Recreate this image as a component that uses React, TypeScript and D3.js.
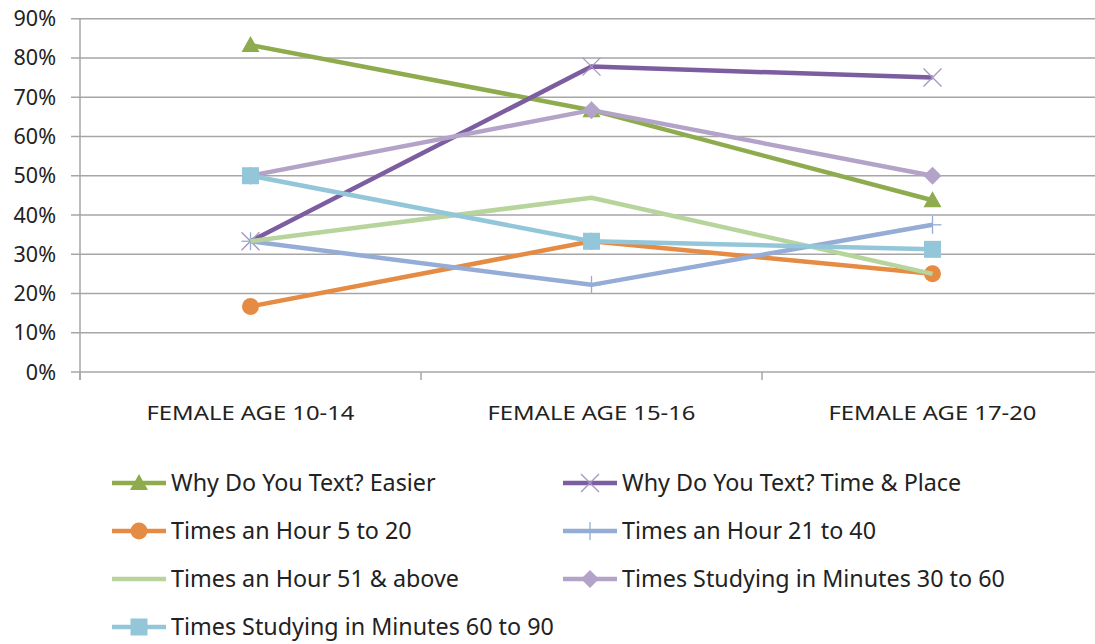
import React from "react";
import * as d3 from "d3";

const categories = ["FEMALE AGE 10-14", "FEMALE AGE 15-16", "FEMALE AGE 17-20"];
const yTicks = [0, 0.1, 0.2, 0.3, 0.4, 0.5, 0.6, 0.7, 0.8, 0.9];

const seriesNames = [
    "Why Do You Text? Easier",
    "Why Do You Text? Time & Place",
    "Times an Hour 5 to 20",
    "Times an Hour 21 to 40",
    "Times an Hour 51 & above",
    "Times Studying in Minutes 30 to 60",
    "Times Studying in Minutes 60 to 90",
];
const easier = [0.833, 0.667, 0.4375];
const timePlace = [0.333, 0.778, 0.75];
const hour5to20 = [0.167, 0.333, 0.25];
const hour21to40 = [0.333, 0.222, 0.375];
const hour51up = [0.333, 0.444, 0.25];
const study30to60 = [0.5, 0.667, 0.5];
const study60to90 = [0.5, 0.333, 0.3125];

const seriesValues = [easier, timePlace, hour5to20, hour21to40, hour51up, study30to60, study60to90];
const colors = ["#8eac4e", "#7b5da0", "#e58b43", "#95acd6", "#b7d49c", "#b3a3c8", "#93c6d8"];
const markers = ["triangle", "x", "circle", "plus", "none", "diamond", "square"];

const width = 1095;
const height = 644;
const font = "'Noto Sans', 'Open Sans', sans-serif";

function Marker({ type, x, y, color }: { type: string; x: number; y: number; color: string }) {
    if (type === "triangle") {
        return <path d={`M${x},${y - 9} L${x + 9},${y + 7} L${x - 9},${y + 7} Z`} fill={color} />;
    }
    if (type === "circle") {
        return <circle cx={x} cy={y} r={8.5} fill={color} />;
    }
    if (type === "square") {
        return <rect x={x - 8.5} y={y - 8.5} width={17} height={17} fill={color} />;
    }
    if (type === "diamond") {
        return <path d={`M${x},${y - 9} L${x + 9},${y} L${x},${y + 9} L${x - 9},${y} Z`} fill={color} />;
    }
    if (type === "x") {
        return (
            <g stroke="#a594c4" strokeWidth={1.3}>
                <line x1={x - 9} y1={y - 9} x2={x + 9} y2={y + 9} />
                <line x1={x - 9} y1={y + 9} x2={x + 9} y2={y - 9} />
            </g>
        );
    }
    if (type === "plus") {
        return (
            <g stroke={color} strokeWidth={1.3}>
                <line x1={x - 9} y1={y} x2={x + 9} y2={y} />
                <line x1={x} y1={y - 9} x2={x} y2={y + 9} />
            </g>
        );
    }
    return null;
}

export default function App() {
    const x = d3.scaleBand().domain(categories).range([80, 1103]);
    const y = d3.scaleLinear().domain([0, 0.9]).range([372, 18.7]);
    const cx = (c: string) => (x(c) as number) + x.bandwidth() / 2;

    const line = d3.line<[number, number]>().x((d) => d[0]).y((d) => d[1]);
    const tickXs = [...categories.map((c) => x(c) as number), 1103];

    const legendRows = seriesNames.map((name, i) => ({
        name,
        lx: i % 2 === 0 ? 112 : 563,
        ly: 483 + Math.floor(i / 2) * 48,
        color: colors[i],
        marker: markers[i],
    }));

    return (
        <svg width={width} height={height} style={{ position: "absolute", left: 0, top: 0, background: "#fff" }}>
            {/* gridlines */}
            {yTicks.map((t) => (
                <g key={t}>
                    <line x1={71} x2={width} y1={y(t)} y2={y(t)} stroke="#a6a6a6" strokeWidth={1.5} />
                    <text x={56} y={y(t)} dy="0.35em" textAnchor="end" fontFamily={font} fontSize={21.5} fill="#222">
                        {d3.format(".0%")(t)}
                    </text>
                </g>
            ))}
            <line x1={80} x2={80} y1={y(0.9)} y2={380} stroke="#a6a6a6" strokeWidth={1.5} />
            {tickXs.map((t) => (
                <line key={t} x1={t} x2={t} y1={372} y2={380} stroke="#a6a6a6" strokeWidth={1.5} />
            ))}
            {categories.map((c) => (
                <text key={c} x={cx(c)} y={420} textAnchor="middle" fontFamily={font} fontSize={19.5}
                    textLength={208} lengthAdjust="spacingAndGlyphs" fill="#222">
                    {c}
                </text>
            ))}

            {/* series */}
            {seriesValues.map((vals, i) => {
                const pts = vals.map((v, j) => [cx(categories[j]), y(v)] as [number, number]);
                return (
                    <g key={i}>
                        <path d={line(pts) as string} fill="none" stroke={colors[i]} strokeWidth={4.5} strokeLinejoin="round" />
                        {pts.map((p, j) => (
                            <Marker key={j} type={markers[i]} x={p[0]} y={p[1]} color={colors[i]} />
                        ))}
                    </g>
                );
            })}

            {/* legend */}
            {legendRows.map((r) => (
                <g key={r.name}>
                    <line x1={r.lx} x2={r.lx + 54} y1={r.ly} y2={r.ly} stroke={r.color} strokeWidth={4.5} />
                    <Marker type={r.marker} x={r.lx + 27} y={r.ly} color={r.color} />
                    <text x={r.lx + 59} y={r.ly} dy="0.35em" fontFamily={font} fontSize={23.3} fill="#222">
                        {r.name}
                    </text>
                </g>
            ))}
        </svg>
    );
}
